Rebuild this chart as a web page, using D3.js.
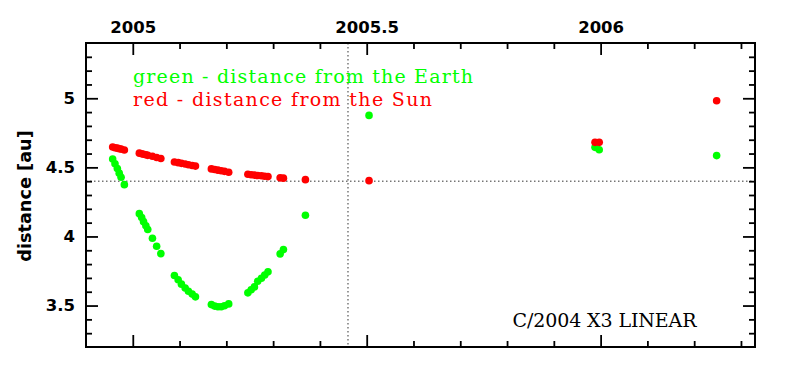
<!DOCTYPE html>
<html>
<head>
<meta charset="utf-8">
<script src="https://cdn.jsdelivr.net/npm/d3@7/dist/d3.min.js"></script>
<style>
  html, body { margin: 0; padding: 0; background: #fff; }
  svg { display: block; }
</style>
</head>
<body>
<svg id="chart" width="797" height="380"></svg>
<script>
// ---- data ----
const obsTime = [
  2004.957, 2004.962, 2004.967, 2004.971, 2004.975, 2004.982,
  2005.014, 2005.019, 2005.023, 2005.028, 2005.032, 2005.042, 2005.051, 2005.060,
  2005.089, 2005.097, 2005.104, 2005.112, 2005.119, 2005.127, 2005.134,
  2005.168, 2005.175, 2005.182, 2005.189, 2005.196, 2005.205,
  2005.246, 2005.253, 2005.260, 2005.267, 2005.275, 2005.282, 2005.289,
  2005.315, 2005.322,
  2005.369,
  2005.505,
  2005.988, 2005.997,
  2006.248
];
const distEarth = [
  4.561, 4.526, 4.491, 4.458, 4.428, 4.375,
  4.165, 4.137, 4.107, 4.077, 4.050, 3.987, 3.929, 3.876,
  3.717, 3.687, 3.655, 3.627, 3.603, 3.583, 3.563,
  3.507, 3.496, 3.491, 3.491, 3.499, 3.512,
  3.592, 3.614, 3.635, 3.676, 3.698, 3.721, 3.744,
  3.874, 3.905,
  4.153,
  4.876,
  4.645, 4.628,
  4.585
];
const distSun = [
  4.647, 4.642, 4.639, 4.635, 4.632, 4.626,
  4.603, 4.599, 4.595, 4.591, 4.587, 4.580, 4.571, 4.564,
  4.539, 4.534, 4.529, 4.524, 4.519, 4.514, 4.509,
  4.489, 4.485, 4.480, 4.475, 4.471, 4.465,
  4.450, 4.447, 4.444, 4.441, 4.439, 4.436, 4.433,
  4.424, 4.422,
  4.411,
  4.404,
  4.681, 4.681,
  4.982
];
const xMajorTicks = [2005, 2005.5, 2006];
const xTickLabels = ["2005", "2005.5", "2006"];
const xMinorTicks = [2005.1, 2005.2, 2005.3, 2005.4, 2005.6, 2005.7, 2005.8, 2005.9, 2006.1, 2006.2, 2006.3];
const yMajorTicks = [3.5, 4, 4.5, 5];
const yTickLabels = ["3.5", "4", "4.5", "5"];
const yMinorTicks = [3.3, 3.4, 3.6, 3.7, 3.8, 3.9, 4.1, 4.2, 4.3, 4.4, 4.6, 4.7, 4.8, 4.9, 5.1, 5.2, 5.3];
const refLineTime = 2005.46;   // vertical dotted line
const refLineDist = 4.4;       // horizontal dotted line
const legendGreen = "green - distance from the Earth";
const legendRed = "red - distance from the Sun";
const objectName = "C/2004 X3 LINEAR";
const yTitle = "distance [au]";

// ---- layout ----
const svg = d3.select("#chart");
const L = 86, R = 755, T = 43, B = 347;
const x = d3.scaleLinear().domain([2004.9, 2006.33]).range([L, R]);
const y = d3.scaleLinear().domain([3.2, 5.4]).range([B, T]);

const labelFont = "'DejaVu Sans', sans-serif";
const serifFont = "'DejaVu Serif', serif";

// reference dotted lines
svg.append("line")
  .attr("x1", x(refLineTime)).attr("x2", x(refLineTime))
  .attr("y1", T).attr("y2", B)
  .attr("stroke", "#333").attr("stroke-width", 1).attr("stroke-dasharray", "1.5,2.5");
svg.append("line")
  .attr("x1", L).attr("x2", R)
  .attr("y1", y(refLineDist)).attr("y2", y(refLineDist))
  .attr("stroke", "#333").attr("stroke-width", 1).attr("stroke-dasharray", "1.5,2.5");

// axes helper
function styleAxis(g) {
  g.select(".domain").remove();
  g.selectAll(".tick line").attr("stroke", "#000").attr("stroke-width", 1.8);
  g.selectAll(".tick text")
    .attr("fill", "#000")
    .style("font-family", labelFont)
    .style("font-weight", "bold")
    .style("font-size", "16.5px");
}

// top axis (labelled)
svg.append("g").attr("transform", `translate(0,${T})`)
  .call(d3.axisTop(x).tickValues(xMajorTicks).tickSize(-12).tickPadding(10.5)
    .tickFormat((d, i) => xTickLabels[i]))
  .call(styleAxis);
svg.append("g").attr("transform", `translate(0,${T})`)
  .call(d3.axisTop(x).tickValues(xMinorTicks).tickSize(-6).tickFormat(""))
  .call(styleAxis);
// bottom axis (ticks only)
svg.append("g").attr("transform", `translate(0,${B})`)
  .call(d3.axisBottom(x).tickValues(xMajorTicks).tickSize(-12).tickFormat(""))
  .call(styleAxis);
svg.append("g").attr("transform", `translate(0,${B})`)
  .call(d3.axisBottom(x).tickValues(xMinorTicks).tickSize(-6).tickFormat(""))
  .call(styleAxis);
// left axis (labelled)
svg.append("g").attr("transform", `translate(${L},0)`)
  .call(d3.axisLeft(y).tickValues(yMajorTicks).tickSize(-12).tickPadding(11)
    .tickFormat((d, i) => yTickLabels[i]))
  .call(styleAxis);
svg.append("g").attr("transform", `translate(${L},0)`)
  .call(d3.axisLeft(y).tickValues(yMinorTicks).tickSize(-6).tickFormat(""))
  .call(styleAxis);
// right axis (ticks only)
svg.append("g").attr("transform", `translate(${R},0)`)
  .call(d3.axisRight(y).tickValues(yMajorTicks).tickSize(-12).tickFormat(""))
  .call(styleAxis);
svg.append("g").attr("transform", `translate(${R},0)`)
  .call(d3.axisRight(y).tickValues(yMinorTicks).tickSize(-6).tickFormat(""))
  .call(styleAxis);

// frame
svg.append("rect")
  .attr("x", L).attr("y", T).attr("width", R - L).attr("height", B - T)
  .attr("fill", "none").attr("stroke", "#000").attr("stroke-width", 2);

// data points
const pts = obsTime.map((t, i) => ({ t, e: distEarth[i], s: distSun[i] }));
svg.append("g").selectAll("circle").data(pts).join("circle")
  .attr("cx", d => x(d.t)).attr("cy", d => y(d.e)).attr("r", 3.8)
  .attr("fill", "#00ff00");
svg.append("g").selectAll("circle").data(pts).join("circle")
  .attr("cx", d => x(d.t)).attr("cy", d => y(d.s)).attr("r", 3.8)
  .attr("fill", "#ff0000");

// y title
svg.append("text")
  .attr("transform", `translate(31,196) rotate(-90)`)
  .attr("text-anchor", "middle")
  .style("font-family", labelFont).style("font-weight", "bold").style("font-size", "17.7px")
  .text(yTitle);

// legend texts
svg.append("text").attr("x", 133).attr("y", 83)
  .attr("textLength", 340).attr("lengthAdjust", "spacing")
  .style("font-family", serifFont).style("font-size", "19px").attr("fill", "#00ff00")
  .text(legendGreen);
svg.append("text").attr("x", 133).attr("y", 106)
  .attr("textLength", 299).attr("lengthAdjust", "spacing")
  .style("font-family", serifFont).style("font-size", "19px").attr("fill", "#ff0000")
  .text(legendRed);
svg.append("text").attr("x", 512.5).attr("y", 327)
  .attr("textLength", 184).attr("lengthAdjust", "spacing")
  .style("font-family", serifFont).style("font-size", "19px").attr("fill", "#000")
  .text(objectName);
</script>
</body>
</html>
